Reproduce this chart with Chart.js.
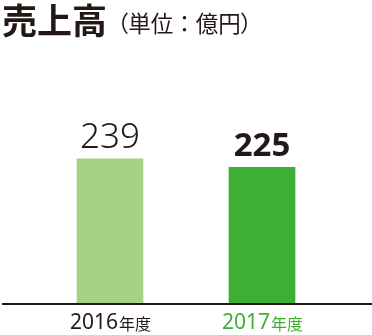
<!DOCTYPE html>
<html><head><meta charset="utf-8">
<script src="https://cdn.jsdelivr.net/npm/chart.js@4"></script>
<style>
html,body{margin:0;padding:0;background:#fff;}
#wrap{position:relative;width:372px;height:335px;overflow:hidden;}
#c{position:absolute;left:0;top:0;}
.t1{position:absolute;left:2px;top:1px;font:700 35px/1 "Noto Sans CJK JP",sans-serif;color:#231815;white-space:nowrap;}
.t2{position:absolute;left:117px;top:11px;font:400 22.5px/1 "Noto Sans CJK JP",sans-serif;color:#231815;white-space:nowrap;font-feature-settings:"palt";}
.t2 .n{font-feature-settings:normal;}
</style></head>
<body>
<div id="wrap">
<canvas id="c" width="372" height="335"></canvas>
<div class="t1">売上高</div>
<div class="t2">（単位<span class="n">：</span>億円）</div>
</div>
<script>
const categories = ['2016年度', '2017年度'];
const sales = [239, 225];
const yMin = 0;
const yMax = 300;

const barColors = ['#a4d385', '#3fae34'];
const catColors = ['#231815', '#3fae34'];
const valueFonts = ['300 35px "Noto Sans", sans-serif', '700 33px "Noto Sans", sans-serif'];

const labelPlugin = {
  id: 'customLabels',
  afterDatasetsDraw(chart) {
    const ctx = chart.ctx;
    const meta = chart.getDatasetMeta(0);
    const xs = chart.scales.x;
    const area = chart.chartArea;
    ctx.save();
    // axis line
    ctx.fillStyle = '#231815';
    ctx.fillRect(2, area.bottom, chart.width - 2, 2);
    // value labels
    meta.data.forEach((bar, i) => {
      ctx.font = valueFonts[i];
      ctx.fillStyle = '#231815';
      ctx.textAlign = 'center';
      ctx.textBaseline = 'alphabetic';
      ctx.fillText(String(sales[i]), bar.x, bar.y - 11);
    });
    // category labels
    categories.forEach((cat, i) => {
      const cx = xs.getPixelForValue(i);
      const m = cat.match(/^(\d+)(.*)$/);
      const num = m ? m[1] : cat;
      const suf = m ? m[2] : '';
      const f1 = '400 21px "Noto Sans", sans-serif';
      const f2 = '400 16px "Noto Sans CJK JP", sans-serif';
      ctx.font = f1; const w1 = ctx.measureText(num).width;
      ctx.font = f2; const w2 = ctx.measureText(suf).width;
      let x0 = cx - (w1 + w2) / 2;
      const base = area.bottom + 25.5;
      ctx.textAlign = 'left';
      ctx.textBaseline = 'alphabetic';
      ctx.fillStyle = catColors[i];
      ctx.font = f1; ctx.fillText(num, x0, base);
      ctx.font = f2; ctx.fillText(suf, x0 + w1 + 1, base + 1);
    });
    ctx.restore();
  }
};

new Chart(document.getElementById('c'), {
  type: 'bar',
  data: {
    labels: categories,
    datasets: [{
      data: sales,
      backgroundColor: barColors,
      borderWidth: 0,
      barThickness: 66
    }]
  },
  options: {
    responsive: false,
    animation: false,
    layout: { padding: { top: 122, left: 34, right: 34, bottom: 32 } },
    plugins: { legend: { display: false }, tooltip: { enabled: false }, title: { display: false } },
    scales: {
      x: { display: false },
      y: { display: false, min: yMin, max: yMax }
    }
  },
  plugins: [labelPlugin]
});
</script>
</body></html>
